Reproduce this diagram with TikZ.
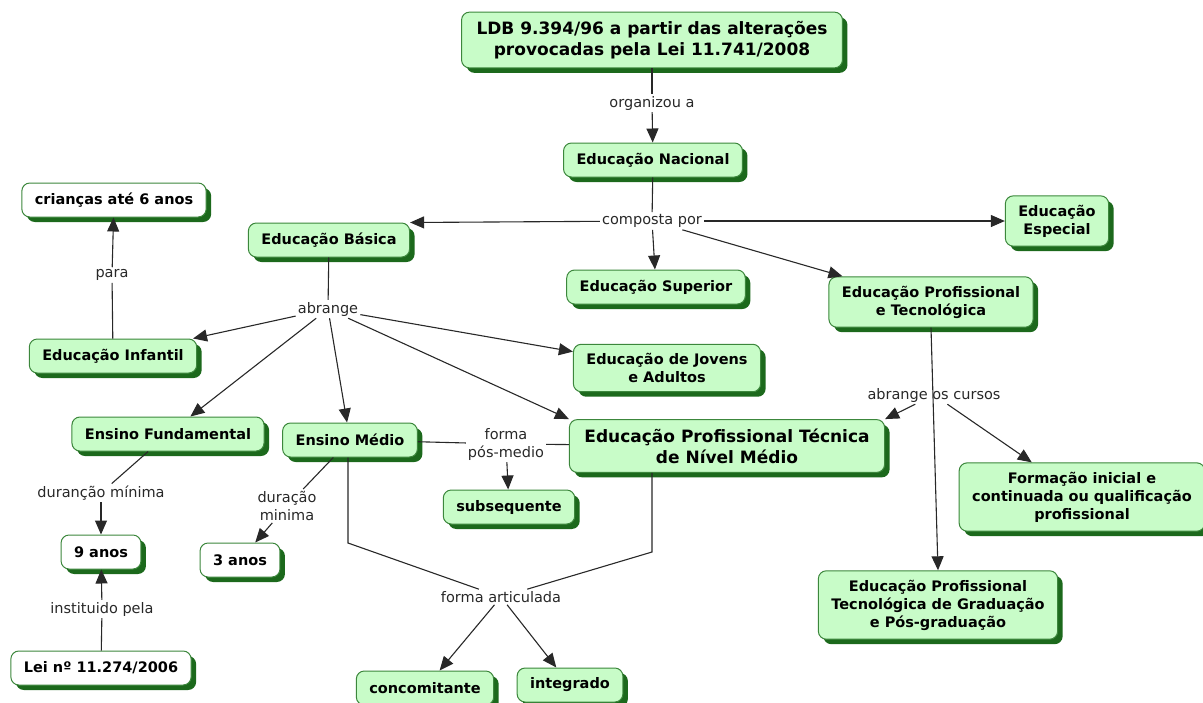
\documentclass[tikz,border=0pt]{standalone}
\usepackage{fontspec}
\setmainfont{DejaVu Sans}
\usetikzlibrary{arrows.meta,shadows}

\definecolor{cmfill}{RGB}{200,252,200}
\definecolor{cmborder}{RGB}{60,135,60}
\definecolor{cmshadow}{RGB}{28,105,28}
\definecolor{cmline}{RGB}{40,40,40}

\tikzset{
  concept/.style={draw=cmborder, fill=cmfill, line width=1pt, rounded corners=8pt,
    font=\bfseries\fontsize{14.5}{18}\selectfont, align=center,
    inner xsep=13pt, inner ysep=9pt, minimum height=34pt,
    drop shadow={shadow xshift=5pt, shadow yshift=-5pt, fill=cmshadow, opacity=1}},
  bigconcept/.style={concept, font=\bfseries\fontsize{17}{21}\selectfont, inner xsep=15pt},
  whiteconcept/.style={concept, fill=white},
  linkphrase/.style={font=\fontsize{14.5}{18}\selectfont, text=cmline, align=center, inner sep=2pt},
  conn/.style={draw=cmline, line width=1.1pt},
  arrowconn/.style={conn, -{Triangle[length=14pt,width=12pt]}},
}

\begin{document}
\begin{tikzpicture}[x=1pt, y=-1pt]
  \useasboundingbox (0,0) rectangle (1203,702);

  % Concepts
  \node[bigconcept] (ldb) at (652,40) {LDB 9.394/96 a partir das alterações\\provocadas pela Lei 11.741/2008};
  \node[concept] (nacional) at (653,160) {Educação Nacional};
  \node[concept] (basica) at (329,240) {Educação Básica};
  \node[whiteconcept] (criancas) at (114,200) {crianças até 6 anos};
  \node[concept] (especial) at (1057,221) {Educação\\Especial};
  \node[concept] (superior) at (656,287) {Educação Superior};
  \node[concept] (ept) at (931,302) {Educação Profissional\\e Tecnológica};
  \node[concept] (infantil) at (113,356) {Educação Infantil};
  \node[concept] (eja) at (667,368) {Educação de Jovens\\e Adultos};
  \node[concept] (fundamental) at (168,434) {Ensino Fundamental};
  \node[concept] (medio) at (350,440) {Ensino Médio};
  \node[bigconcept] (eptm) at (727,446) {Educação Profissional Técnica\\de Nível Médio};
  \node[concept] (formacao) at (1082,497) {Formação inicial e\\continuada ou qualificação\\profissional};
  \node[concept] (subsequente) at (509,507) {subsequente};
  \node[whiteconcept] (nove) at (101,552) {9 anos};
  \node[whiteconcept] (tres) at (240,560) {3 anos};
  \node[concept] (grad) at (938,605) {Educação Profissional\\Tecnológica de Graduação\\e Pós-graduação};
  \node[whiteconcept] (lei) at (101,668) {Lei nº 11.274/2006};
  \node[concept] (concomitante) at (425,688) {concomitante};
  \node[concept] (integrado) at (570,685) {integrado};

  % Linking phrases
  \node[linkphrase] (organizou) at (652,103) {organizou a};
  \node[linkphrase] (composta) at (652,221) {composta por};
  \node[linkphrase] (para) at (112,275) {para};
  \node[linkphrase] (abrange) at (328,309) {abrange};
  \node[linkphrase] (cursos) at (934,395) {abrange os cursos};
  \node[linkphrase] (posmedio) at (506,444) {forma\\pós-medio};
  \node[linkphrase] (durancao) at (101,493) {duranção mínima};
  \node[linkphrase] (duracao) at (287,506) {duração\\minima};
  \node[linkphrase] (articulada) at (501,597) {forma articulada};
  \node[linkphrase] (instituido) at (102,609) {instituido pela};

  % Corners of the bent lines
  \coordinate (mediodown) at (348,543);
  \coordinate (eptmdown) at (652,552);

  % LDB -> Educação Nacional
  \draw[conn] (ldb) -- (organizou);
  \draw[arrowconn] (organizou) -- (nacional);

  % Educação Nacional -> its parts
  \draw[conn] (nacional) -- (composta);
  \draw[arrowconn] (composta) -- (basica.north east);
  \draw[arrowconn] (composta) -- (especial);
  \draw[arrowconn] (composta) -- (superior);
  \draw[arrowconn] (composta) -- (ept);

  % Educação Básica
  \draw[conn] (basica) -- (abrange);
  \draw[arrowconn] (abrange) -- (infantil);
  \draw[arrowconn] (abrange) -- (fundamental);
  \draw[arrowconn] (abrange) -- (medio);
  \draw[arrowconn] (abrange) -- (eptm.north west);
  \draw[arrowconn] (abrange) -- (eja);

  % Educação Infantil
  \draw[conn] (infantil) -- (para);
  \draw[arrowconn] (para) -- (criancas);

  % Ensino Fundamental
  \draw[conn] (fundamental) -- (durancao);
  \draw[arrowconn] (durancao) -- (nove);
  \draw[conn] (lei) -- (instituido);
  \draw[arrowconn] (instituido) -- (nove);

  % Ensino Médio
  \draw[conn] (medio) -- (duracao);
  \draw[arrowconn] (duracao) -- (tres);
  \draw[conn] (medio) -- (posmedio);
  \draw[conn] (eptm) -- (posmedio);
  \draw[arrowconn] (posmedio) -- (subsequente);
  \draw[conn] (medio.south -| mediodown) -- (mediodown) -- (articulada);
  \draw[conn] (eptm.south -| eptmdown) -- (eptmdown) -- (articulada);
  \draw[arrowconn] (articulada) -- (concomitante);
  \draw[arrowconn] (articulada) -- (integrado);

  % Educação Profissional e Tecnológica
  \draw[arrowconn] (ept.south) -- (grad.north);
  \draw[arrowconn] (cursos) -- (eptm.north east);
  \draw[arrowconn] (cursos) -- (formacao);
\end{tikzpicture}
\end{document}
